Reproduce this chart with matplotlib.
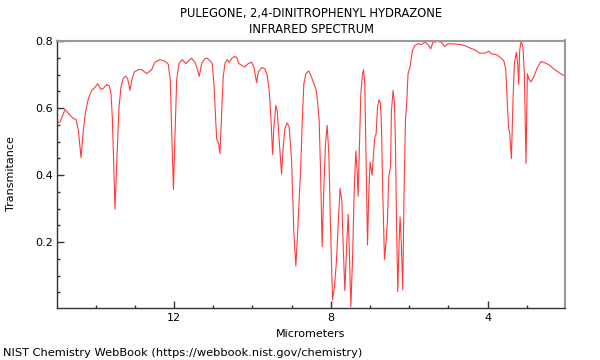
"""IR spectrum of pulegone 2,4-dinitrophenyl hydrazone, NIST WebBook style."""
import matplotlib
matplotlib.use("Agg")
import matplotlib.pyplot as plt
from matplotlib.ticker import MultipleLocator

TITLE_1 = "PULEGONE, 2,4-DINITROPHENYL HYDRAZONE"
TITLE_2 = "INFRARED SPECTRUM"

# wavelength (micrometers)
micrometers = [
    14.963, 14.904, 14.777, 14.650, 14.566, 14.497, 14.438, 14.369, 14.311, 14.250,
    14.183, 14.097, 14.031, 13.944, 13.860, 13.801, 13.715, 13.648, 13.605, 13.572,
    13.536, 13.503, 13.460, 13.401, 13.350, 13.292, 13.231, 13.180, 13.146, 13.121,
    13.078, 13.011, 12.910, 12.823, 12.696, 12.568, 12.484, 12.357, 12.229, 12.145,
    12.094, 12.059, 12.013, 11.975, 11.931, 11.873, 11.789, 11.694, 11.618, 11.549,
    11.465, 11.406, 11.355, 11.294, 11.210, 11.152, 11.083, 11.024, 10.981, 10.938,
    10.912, 10.861, 10.828, 10.785, 10.744, 10.701, 10.642, 10.591, 10.530, 10.464,
    10.403, 10.344, 10.275, 10.191, 10.107, 10.020, 9.962, 9.893, 9.852, 9.766,
    9.682, 9.623, 9.572, 9.529, 9.485, 9.452, 9.401, 9.368, 9.317, 9.256,
    9.215, 9.172, 9.113, 9.062, 9.001, 8.943, 8.892, 8.841, 8.772, 8.721,
    8.688, 8.637, 8.561, 8.492, 8.433, 8.382, 8.349, 8.298, 8.262, 8.221,
    8.178, 8.135, 8.094, 8.051, 8.008, 7.957, 7.906, 7.855, 7.804, 7.763,
    7.720, 7.687, 7.643, 7.600, 7.559, 7.534, 7.490, 7.447, 7.406, 7.363,
    7.330, 7.304, 7.268, 7.235, 7.192, 7.167, 7.134, 7.108, 7.065, 7.032,
    6.999, 6.948, 6.912, 6.879, 6.846, 6.810, 6.770, 6.734, 6.708, 6.675,
    6.632, 6.591, 6.556, 6.522, 6.479, 6.454, 6.413, 6.377, 6.352, 6.326,
    6.293, 6.260, 6.234, 6.199, 6.166, 6.133, 6.097, 6.064, 6.031, 5.980,
    5.919, 5.860, 5.776, 5.690, 5.605, 5.521, 5.452, 5.394, 5.266, 5.180,
    5.096, 5.012, 4.884, 4.713, 4.586, 4.459, 4.331, 4.204, 4.076, 3.975,
    3.906, 3.778, 3.677, 3.592, 3.541, 3.508, 3.473, 3.439, 3.396, 3.355,
    3.320, 3.269, 3.236, 3.210, 3.185, 3.146, 3.101, 3.065, 3.024, 2.989,
    2.955, 2.899, 2.828, 2.744, 2.645, 2.548, 2.420, 2.293, 2.166, 2.030,
]

transmittance = [
    0.557, 0.559, 0.596, 0.579, 0.569, 0.566, 0.534, 0.452, 0.534, 0.593,
    0.628, 0.653, 0.660, 0.673, 0.656, 0.659, 0.670, 0.667, 0.643, 0.573,
    0.435, 0.298, 0.435, 0.603, 0.663, 0.690, 0.695, 0.688, 0.668, 0.653,
    0.683, 0.708, 0.715, 0.715, 0.703, 0.715, 0.737, 0.745, 0.740, 0.731,
    0.683, 0.534, 0.357, 0.514, 0.683, 0.733, 0.745, 0.733, 0.742, 0.749,
    0.737, 0.718, 0.695, 0.733, 0.748, 0.749, 0.742, 0.733, 0.673, 0.573,
    0.509, 0.494, 0.464, 0.584, 0.693, 0.733, 0.745, 0.737, 0.748, 0.754,
    0.752, 0.733, 0.728, 0.723, 0.733, 0.737, 0.723, 0.676, 0.708, 0.721,
    0.718, 0.698, 0.653, 0.573, 0.462, 0.544, 0.608, 0.593, 0.504, 0.403,
    0.484, 0.539, 0.556, 0.544, 0.444, 0.230, 0.128, 0.242, 0.415, 0.584,
    0.673, 0.703, 0.711, 0.693, 0.673, 0.658, 0.633, 0.564, 0.415, 0.186,
    0.365, 0.494, 0.549, 0.464, 0.246, 0.027, 0.067, 0.146, 0.275, 0.360,
    0.325, 0.196, 0.055, 0.176, 0.283, 0.196, 0.007, 0.146, 0.345, 0.472,
    0.415, 0.337, 0.494, 0.643, 0.703, 0.715, 0.673, 0.494, 0.191, 0.345,
    0.439, 0.400, 0.464, 0.512, 0.522, 0.603, 0.625, 0.613, 0.544, 0.345,
    0.148, 0.201, 0.266, 0.395, 0.424, 0.593, 0.653, 0.613, 0.494, 0.266,
    0.052, 0.196, 0.275, 0.186, 0.057, 0.345, 0.564, 0.618, 0.703, 0.723,
    0.772, 0.787, 0.792, 0.790, 0.797, 0.790, 0.777, 0.797, 0.799, 0.797,
    0.784, 0.792, 0.792, 0.790, 0.787, 0.780, 0.774, 0.764, 0.764, 0.770,
    0.762, 0.760, 0.751, 0.742, 0.718, 0.633, 0.549, 0.524, 0.449, 0.623,
    0.733, 0.767, 0.733, 0.671, 0.772, 0.801, 0.782, 0.703, 0.435, 0.703,
    0.688, 0.678, 0.693, 0.718, 0.739, 0.736, 0.728, 0.715, 0.705, 0.695,
]

x_major = [12, 8, 4]
y_major = [0.2, 0.4, 0.6, 0.8]

fig = plt.figure(figsize=(6, 3.6), dpi=100)
ax = fig.add_axes([0.0958, 0.1453, 0.8458, 0.7422])

ax.plot(micrometers, transmittance, color="#ff3b3b", lw=0.8)

ax.set_xlim(14.97, 2.03)           # wavelength runs right-to-left
ax.set_ylim(0.004, 0.802)
ax.set_xticks(x_major)
ax.set_yticks(y_major)
ax.xaxis.set_minor_locator(MultipleLocator(1))
ax.yaxis.set_minor_locator(MultipleLocator(0.05))
ax.tick_params(which="both", direction="in", labelsize=8, color="#333333")
ax.tick_params(which="major", length=5, width=1)
ax.tick_params(which="minor", length=2.5, width=1)

for side in ("left", "bottom"):
    ax.spines[side].set_color("#333333")
    ax.spines[side].set_linewidth(1)
for side in ("top", "right"):
    ax.spines[side].set_color("#999999")
    ax.spines[side].set_linewidth(1.5)

# labels placed in figure coords to match the reference layout
fig.text(0.519, 0.952, TITLE_1, fontsize=8.3, ha="center", va="baseline")
fig.text(0.519, 0.9075, TITLE_2, fontsize=8.3, ha="center", va="baseline")
fig.text(0.5183, 1 - 336.7 / 360, "Micrometers", fontsize=8, ha="center", va="baseline")
fig.text(10.5 / 600, 1 - 174 / 360, "Transmitance", fontsize=8, rotation=90,
         ha="center", va="center")
fig.text(0.005, 1 - 356 / 360, "NIST Chemistry WebBook (https://webbook.nist.gov/chemistry)",
         fontsize=8.2, ha="left", va="baseline")

fig.savefig("out.png", dpi=100)
